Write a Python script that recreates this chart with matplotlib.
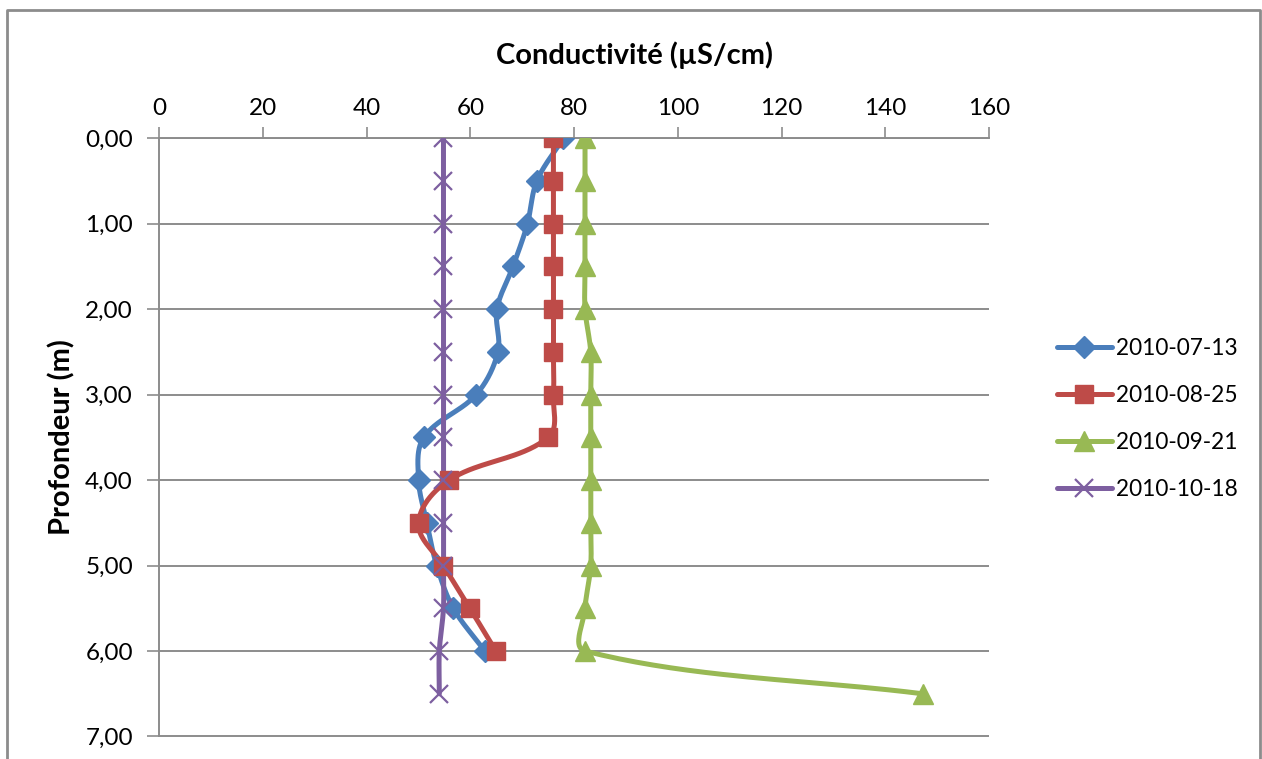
import numpy as np
import matplotlib
matplotlib.use("Agg")
import matplotlib.pyplot as plt
from matplotlib.lines import Line2D
from matplotlib.ticker import FuncFormatter, MultipleLocator

plt.rcParams['font.family'] = ['Lato', 'DejaVu Sans']

# ---- data ----
series_labels = ["2010-07-13", "2010-08-25", "2010-09-21", "2010-10-18"]
depth_0713 = [0.0, 0.5, 1.0, 1.5, 2.0, 2.5, 3.0, 3.5, 4.0, 4.5, 5.0, 5.5, 6.0]
cond_0713 = [77.9, 72.8, 71.0, 68.2, 65.1, 65.3, 61.1, 51.0, 50.0, 51.6, 53.5, 56.7, 62.8]
depth_0825 = [0.0, 0.5, 1.0, 1.5, 2.0, 2.5, 3.0, 3.5, 4.0, 4.5, 5.0, 5.5, 6.0]
cond_0825 = [76.0, 76.0, 76.0, 76.0, 76.0, 76.0, 76.0, 75.0, 55.9, 50.0, 54.8, 59.9, 64.9]
depth_0921 = [0.0, 0.5, 1.0, 1.5, 2.0, 2.5, 3.0, 3.5, 4.0, 4.5, 5.0, 5.5, 6.0, 6.5]
cond_0921 = [82.1, 82.1, 82.1, 82.1, 82.1, 83.2, 83.2, 83.2, 83.2, 83.2, 83.2, 82.1, 82.1, 147.2]
depth_1018 = [0.0, 0.5, 1.0, 1.5, 2.0, 2.5, 3.0, 3.5, 4.0, 4.5, 5.0, 5.5, 6.0, 6.5]
cond_1018 = [54.8, 54.8, 54.8, 54.8, 54.8, 54.8, 54.8, 54.8, 54.8, 54.8, 54.8, 54.8, 54.0, 54.0]

x_ticks = [0, 20, 40, 60, 80, 100, 120, 140, 160]

colors = ["#4A7EBB", "#BE4B48", "#98B954", "#7D5FA0"]
markers = ["D", "s", "^", "x"]
msizes = [11, 13, 15, 13]

W, H = 1262, 759
AX_L, AX_R, AX_T, AX_B = 159.3, 989.0, 138.3, 736.5
XMAX, YMAX = 160.0, 7.0
SX = (AX_R - AX_L) / XMAX   # px per data unit (x)
SY = (AX_B - AX_T) / YMAX   # px per data unit (y)


def smooth(x, y, n=40):
    """Excel-like smoothed line (cubic Bezier, length-aware Catmull-Rom tangents),
    computed in pixel space so tangent lengths follow the on-screen geometry."""
    P = np.column_stack([np.asarray(x, float) * SX, np.asarray(y, float) * SY])
    m = len(P)
    out = [P[0]]
    t = np.linspace(0, 1, n)[1:]

    def unit(v):
        L = np.hypot(*v)
        return v / L if L > 0 else v

    for i in range(m - 1):
        p0 = P[i - 1] if i > 0 else P[i]
        p1 = P[i]
        p2 = P[i + 1]
        p3 = P[i + 2] if i + 2 < m else P[i + 1]
        d = np.hypot(*(p2 - p1))
        c1 = p1 + unit(p2 - p0) * d / 3.0
        c2 = p2 - unit(p3 - p1) * d / 3.0
        seg = ((1 - t)[:, None] ** 3 * p1 + 3 * ((1 - t) ** 2 * t)[:, None] * c1
               + 3 * ((1 - t) * t ** 2)[:, None] * c2 + (t ** 3)[:, None] * p2)
        out.extend(seg)
    out = np.array(out)
    return out[:, 0] / SX, out[:, 1] / SY


fig = plt.figure(figsize=(12.62, 7.59), dpi=100)
ax = fig.add_axes([AX_L / W, 1 - AX_B / H, (AX_R - AX_L) / W, (AX_B - AX_T) / H])

LW = 3.6
data = [(cond_0713, depth_0713), (cond_0825, depth_0825),
        (cond_0921, depth_0921), (cond_1018, depth_1018)]
handles = []
for (c, d), col, mk, ms, lab in zip(data, colors, markers, msizes, series_labels):
    sx, sy = smooth(c, d)
    ax.plot(sx, sy, color=col, lw=LW, solid_capstyle='round', zorder=3)
    if mk == 'x':
        ax.plot(c, d, ls='none', marker=mk, ms=ms, mew=1.6, color=col, zorder=4)
    else:
        ax.plot(c, d, ls='none', marker=mk, ms=ms, mfc=col, mec=col, zorder=4)
    handles.append(Line2D([0], [0], color=col, lw=LW, marker=mk, ms=ms,
                          mew=1.6 if mk == 'x' else 1.0, mfc=col, mec=col,
                          solid_capstyle='round'))

ax.set_xlim(0, XMAX)
ax.set_ylim(YMAX, 0)
ax.set_xticks(x_ticks)
ax.yaxis.set_major_locator(MultipleLocator(1.0))
ax.yaxis.set_major_formatter(FuncFormatter(lambda v, p: f"{v:.2f}".replace('.', ',')))
ax.xaxis.tick_top()
ax.tick_params(axis='x', direction='out', length=8, width=1.2, color='#8C8C8C',
               labelsize=17.5, pad=6)
ax.tick_params(axis='y', direction='out', length=9, width=1.2, color='#8C8C8C',
               labelsize=17.5, pad=10)
ax.grid(axis='y', color='#8C8C8C', lw=1.4)
ax.set_axisbelow(True)
for s in ['right', 'bottom']:
    ax.spines[s].set_visible(False)
for s in ['left', 'top']:
    ax.spines[s].set_color('#8C8C8C')
    ax.spines[s].set_linewidth(1.4)

fig.text(634 / W, 1 - 55 / H, "Conductivité (µS/cm)", ha='center', va='center',
         fontsize=21, fontweight='bold')
fig.text(62 / W, 1 - 437 / H, "Profondeur (m)", ha='center', va='center',
         rotation=90, fontsize=21, fontweight='bold')

fig.legend(handles, series_labels, loc='center left',
           bbox_to_anchor=(1046 / W, 1 - 419 / H), frameon=False, fontsize=16.3,
           handlelength=2.4, handletextpad=0.2, labelspacing=1.15, borderpad=0)

# outer chart-area border (top, left, right)
fig.add_artist(Line2D([7 / W, 7 / W, 1260 / W, 1260 / W], [0, 1 - 10 / H, 1 - 10 / H, 0],
                      transform=fig.transFigure, color='#8C8C8C', lw=2))

fig.savefig("out.png", dpi=100, facecolor='white')
